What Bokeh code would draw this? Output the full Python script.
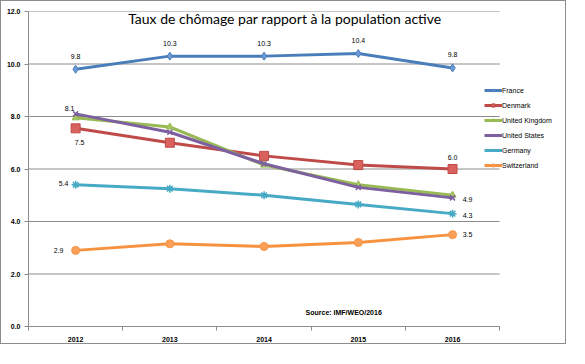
from bokeh.plotting import figure
from bokeh.models import FixedTicker, PrintfTickFormatter, Label, Legend, LegendItem, ColumnDataSource
from bokeh.core.properties import value
from bokeh.embed import file_html
from bokeh.resources import INLINE

years = [2012, 2013, 2014, 2015, 2016]
france = [9.8, 10.3, 10.3, 10.4, 9.85]
denmark = [7.55, 7.0, 6.5, 6.15, 6.0]
united_kingdom = [7.95, 7.6, 6.15, 5.4, 5.0]
united_states = [8.1, 7.4, 6.2, 5.3, 4.9]
germany = [5.4, 5.25, 5.0, 4.65, 4.3]
switzerland = [2.9, 3.15, 3.05, 3.2, 3.5]
y_ticks = [0, 2, 4, 6, 8, 10, 12]

names = ["France", "Denmark", "United Kingdom", "United States", "Germany", "Switzerland"]
series = [france, denmark, united_kingdom, united_states, germany, switzerland]
colors = ["#4A7EBB", "#BE4B48", "#98B954", "#7D60A0", "#46AAC5", "#F69240"]
fills = ["#6D9AD6", "#D9625F", "#A6C85F", "#8E72B0", "#5BBAD4", "#F9A05A"]
markers = ["diamond", "square", "triangle", "x", "asterisk", "circle"]
msizes = [8, 9, 7, 7, 8, 8]
shown = {
    "France": ([0, 1, 2, 3, 4], [(0, -13, "center")] * 5),
    "Denmark": ([0, 4], [(4, 14, "center"), (0, -12, "center")]),
    "United States": ([0, 4], [(-6, -5, "center"), (15, 2, "center")]),
    "Germany": ([0, 4], [(-12, -1, "center"), (15, 2, "center")]),
    "Switzerland": ([0, 4], [(-17, 0, "center"), (15, 0, "center")]),
}
values_label = "{:.1f}"

x_lo = years[0] - 0.5
x_hi = years[-1] + 0.5

p = figure(width=566, height=344, output_backend="svg", toolbar_location=None,
           x_range=(x_lo, 2017.22), y_range=(0, 12),
           min_border_left=27, min_border_right=0, min_border_top=10, min_border_bottom=19)
p.styles = {"border": "1px solid #8c8c8c"}
p.outline_line_color = None
p.background_fill_color = "white"
p.border_fill_color = "white"

p.xgrid.visible = False
p.ygrid.visible = False
p.segment(x0=[x_lo] * len(y_ticks), y0=y_ticks, x1=[x_hi] * len(y_ticks), y1=y_ticks,
          line_color="#8c8c8c", line_width=1, level="underlay")

p.yaxis.ticker = FixedTicker(ticks=y_ticks)
p.yaxis.formatter = PrintfTickFormatter(format="%.1f")
p.xaxis.ticker = FixedTicker(ticks=years, minor_ticks=[y - 0.5 for y in years] + [x_hi])
p.xaxis.formatter = PrintfTickFormatter(format="%d")
p.xaxis.bounds = (x_lo, x_hi)
for ax in (p.xaxis, p.yaxis):
    ax.axis_line_color = "#8c8c8c"
    ax.major_label_text_font = "Liberation Sans"
    ax.major_label_text_font_size = "7px"
    ax.major_label_text_font_style = "bold"
    ax.major_label_text_color = "#000000"
p.xaxis.major_tick_line_color = None
p.xaxis.major_tick_out = 0
p.xaxis.major_tick_in = 0
p.xaxis.minor_tick_line_color = "#8c8c8c"
p.xaxis.minor_tick_out = 4
p.xaxis.minor_tick_in = 0
p.xaxis.major_label_standoff = 6
p.yaxis.major_tick_line_color = "#8c8c8c"
p.yaxis.major_tick_out = 4
p.yaxis.major_tick_in = 0
p.yaxis.minor_tick_line_color = None
p.yaxis.major_label_standoff = 4

items = []
for name, vals, c, f, m, s in zip(names, series, colors, fills, markers, msizes):
    src = ColumnDataSource(dict(x=years, y=vals))
    r1 = p.line("x", "y", source=src, line_color=c, line_width=3)
    r2 = p.scatter("x", "y", source=src, marker=m, size=s, fill_color=f, line_color=c,
                   line_width=1.5 if m in ("x", "asterisk") else 1)
    items.append(LegendItem(label=name, renderers=[r1, r2]))
    if name in shown:
        idx, offs = shown[name]
        for i, (dx, dy, al) in zip(idx, offs):
            p.text(x=[years[i]], y=[vals[i]], text=[values_label.format(vals[i])], x_offset=dx, y_offset=dy,
                   text_align=al, text_baseline="middle", text_font=value("Liberation Sans"),
                   text_font_size="7px", text_color="#000000")

legend = Legend(items=items, location=(456, 157), padding=0, margin=0, spacing=7,
                glyph_width=18, glyph_height=8, label_height=8, label_standoff=0,
                label_text_font="Liberation Sans", label_text_font_size="7px",
                label_text_color="#000000",
                border_line_color=None, background_fill_alpha=0)
p.add_layout(legend, "center")

p.add_layout(Label(x=2014.22, y=11.75, text="Taux de chômage par rapport à la population active",
                   text_align="center", text_baseline="middle", text_font="Lato",
                   text_font_size="14px", text_color="#000000"))
p.add_layout(Label(x=2014.44, y=0.53, text="Source: IMF/WEO/2016", text_align="left",
                   text_baseline="middle", text_font="Liberation Sans", text_font_size="7px",
                   text_font_style="bold", text_color="#000000"))

open("out.html", "w").write(file_html(p, INLINE))
